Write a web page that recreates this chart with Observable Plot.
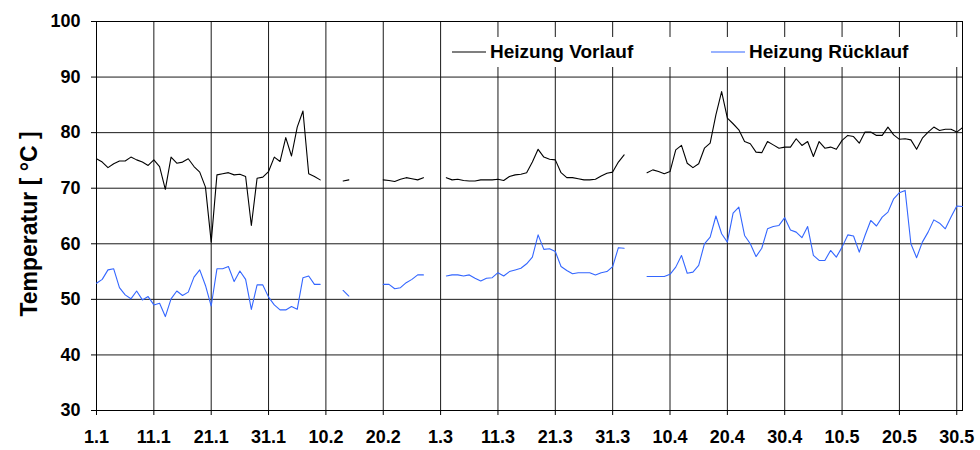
<!DOCTYPE html>
<html>
<head>
<meta charset="utf-8">
<script src="https://cdn.jsdelivr.net/npm/d3@7"></script>
<script src="https://cdn.jsdelivr.net/npm/@observablehq/plot@0.6"></script>
<style>
  html, body { margin: 0; padding: 0; background: #fff; }
  #wrap { position: relative; width: 980px; height: 450px; font-family: "Liberation Sans", Arial, sans-serif; }
  #legend { position: absolute; left: 445px; top: 37px; width: 517px; height: 30px; background: #fff;
            font-weight: bold; font-size: 19px; color: #000; }
  .item { position: absolute; top: 0; height: 30px; display: flex; align-items: center; white-space: nowrap; }
  .item svg { margin-right: 4px; }
</style>
</head>
<body>
<div id="wrap"></div>
<script>
// ---- data (daily values from 1.1. of a leap year; null = no data) ----
const startDate = "2008-01-01";
const seriesNames = ["Heizung Vorlauf", "Heizung Rücklauf"];
const seriesColors = ["#000000", "#3366ff"];
const yTitle = "Temperatur [ °C ]";
const xTickLabels = ["1.1","11.1","21.1","31.1","10.2","20.2","1.3","11.3","21.3","31.3","10.4","20.4","30.4","10.5","20.5","30.5"];
const yTicks = [30, 40, 50, 60, 70, 80, 90, 100];

const vorlauf = [
  75.3,74.7,73.7,74.4,74.9,74.9,75.6,75.1,74.7,74.1,
  75.1,73.9,69.8,75.6,74.5,74.7,75.3,73.9,72.9,70.2,
  60.3,72.4,72.6,72.8,72.4,72.5,72.1,63.3,71.8,72.0,
  73.0,75.6,74.8,79.1,75.8,81.0,83.9,72.6,72.1,71.5,
  null,null,null,71.3,71.5,null,null,null,null,null,
  71.5,71.4,71.2,71.6,71.9,71.7,71.5,71.9,null,null,
  null,71.9,71.5,71.6,71.4,71.3,71.3,71.5,71.5,71.5,
  71.6,71.4,72.1,72.4,72.5,72.8,74.7,77.0,75.6,75.2,
  75.1,72.8,71.9,71.9,71.7,71.5,71.5,71.6,72.2,72.7,
  72.9,74.7,76.0,null,null,null,72.8,73.3,73.0,72.6,
  73.0,76.9,77.7,74.5,73.7,74.4,77.2,78.1,83.2,87.4,
  82.6,81.6,80.5,78.4,78.0,76.5,76.4,78.4,77.8,77.2,
  77.4,77.4,78.9,77.7,78.4,75.7,78.4,77.2,77.4,77.0,
  78.6,79.5,79.3,78.1,80.1,80.1,79.5,79.5,81.0,79.6,
  78.8,78.9,78.7,77.0,79.0,80.1,81.0,80.4,80.6,80.6,
  80.1,80.9
];
const ruecklauf = [
  52.9,53.6,55.3,55.5,52.1,50.8,50.1,51.5,49.9,50.5,
  49.0,49.3,46.9,50.1,51.5,50.7,51.3,54.0,55.3,52.5,
  48.8,55.5,55.5,55.9,53.2,55.1,53.6,48.2,52.6,52.6,
  50.4,49.0,48.1,48.1,48.7,48.2,53.9,54.2,52.7,52.7,
  null,null,null,51.6,50.6,null,null,null,null,null,
  52.7,52.7,51.9,52.1,53.0,53.6,54.4,54.4,null,null,
  null,54.2,54.4,54.4,54.2,54.4,53.8,53.3,53.8,53.9,
  54.8,54.2,55.0,55.3,55.6,56.4,57.6,61.6,59.0,59.1,
  58.6,55.9,55.2,54.6,54.8,54.8,54.8,54.4,54.8,55.0,
  55.9,59.3,59.2,null,null,null,54.1,54.1,54.1,54.1,
  54.5,55.8,57.9,54.7,54.9,56.1,60.0,61.2,65.0,61.8,
  60.3,65.5,66.6,61.5,60.0,57.7,59.2,62.7,63.1,63.3,
  64.7,62.5,62.1,61.1,63.1,57.9,57.0,57.0,58.8,57.6,
  59.4,61.6,61.4,58.5,61.5,64.2,63.2,64.8,65.7,68.1,
  69.2,69.6,60.0,57.5,60.3,62.1,64.3,63.7,62.7,64.8,
  66.8,66.7
];

// ---- build ----
const start = new Date(startDate + "T00:00:00Z");
const year = start.getUTCFullYear();
const rows = vorlauf.map((v, i) => ({
  date: d3.utcDay.offset(start, i),
  vorlauf: v,
  ruecklauf: ruecklauf[i]
}));
const end = rows[rows.length - 1].date;
const tickDates = xTickLabels.map(s => {
  const [d, m] = s.split(".").map(Number);
  return new Date(Date.UTC(year, m - 1, d));
});
const labelOf = new Map(tickDates.map((d, i) => [+d, xTickLabels[i]]));

const gridStroke = "#1a1a1a";
const chart = Plot.plot({
  width: 980,
  height: 450,
  marginLeft: 96,
  marginRight: 18,
  marginTop: 21,
  marginBottom: 40,
  style: {fontFamily: "'Liberation Sans', Arial, sans-serif", fontSize: "18px", fontWeight: "bold", background: "#fff", color: "#000"},
  x: {type: "utc", domain: [start, end]},
  y: {domain: [30, 100]},
  marks: [
    Plot.gridX(tickDates, {stroke: gridStroke, strokeOpacity: 1, strokeWidth: 1}),
    Plot.gridY(yTicks, {stroke: gridStroke, strokeOpacity: 1, strokeWidth: 1}),
    Plot.frame({stroke: "#000", strokeWidth: 1}),
    Plot.axisX(tickDates, {tickFormat: d => labelOf.get(+d), tickSize: 5, tickPadding: 15, label: null, fontSize: 18, fontWeight: "bold"}),
    Plot.axisY(yTicks, {tickSize: 5, tickPadding: 11, label: null, fontSize: 18, fontWeight: "bold"}),
    Plot.text([yTitle], {frameAnchor: "left", textAnchor: "middle", lineAnchor: "middle", text: d => d, rotate: -90, dx: -67, dy: 8, fontSize: 23, fontWeight: "bold"}),
    Plot.line(rows, {x: "date", y: "vorlauf", stroke: seriesColors[0], strokeWidth: 1.1}),
    Plot.line(rows, {x: "date", y: "ruecklauf", stroke: seriesColors[1], strokeWidth: 1.1})
  ]
});

const wrap = document.getElementById("wrap");
wrap.appendChild(chart);

// legend (inside plot area, white box like the original)
const legend = document.createElement("div");
legend.id = "legend";
const itemLefts = [7, 266];
seriesNames.forEach((name, i) => {
  const it = document.createElement("div");
  it.className = "item";
  it.style.left = itemLefts[i] + "px";
  it.innerHTML = `<svg width="34" height="4"><line x1="0" y1="2" x2="34" y2="2" stroke="${seriesColors[i]}" stroke-width="1.2"/></svg>`;
  const span = document.createElement("span");
  span.textContent = name;
  it.appendChild(span);
  legend.appendChild(it);
});
wrap.appendChild(legend);
</script>
</body>
</html>
